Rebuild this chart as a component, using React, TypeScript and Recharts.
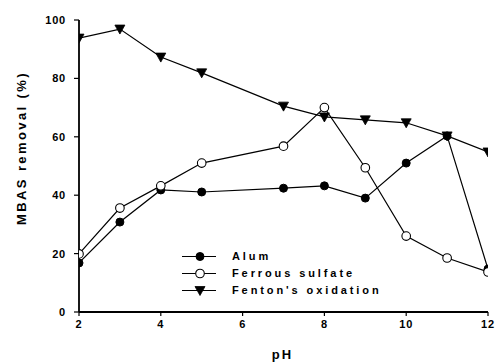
import React from "react";
import { LineChart, Line, XAxis, YAxis, Legend } from "recharts";

const phValues = [2, 3, 4, 5, 7, 8, 9, 10, 11, 12];
const alumValues = [16.8, 30.8, 41.8, 41.1, 42.4, 43.2, 39.0, 51.0, 60.3, 14.7];
const ferrousValues = [19.9, 35.6, 43.2, 51.0, 56.8, 70.0, 49.4, 26.0, 18.5, 13.7];
const fentonValues = [93.8, 96.9, 87.3, 81.9, 70.5, 66.8, 65.8, 64.8, 60.3, 54.8];
const xTicks = [2, 4, 6, 8, 10, 12];
const yTicks = [0, 20, 40, 60, 80, 100];
const seriesNames = ["Alum", "Ferrous sulfate", "Fenton's oxidation"];

const data = phValues.map((ph, i) => ({
  ph,
  alum: alumValues[i],
  ferrous: ferrousValues[i],
  fenton: fentonValues[i],
}));

const FONT = "'Liberation Sans', Arial, sans-serif";

const FilledCircle = (props: any) => {
  const { cx, cy } = props;
  if (cx == null || cy == null) return null;
  return <circle cx={cx} cy={cy} r={4} fill="#000" stroke="#000" strokeWidth={1} />;
};
const OpenCircle = (props: any) => {
  const { cx, cy } = props;
  if (cx == null || cy == null) return null;
  return <circle cx={cx} cy={cy} r={4.3} fill="#fff" stroke="#000" strokeWidth={1.1} />;
};
const DownTriangle = (props: any) => {
  const { cx, cy } = props;
  if (cx == null || cy == null) return null;
  return (
    <polygon
      points={`${cx - 5},${cy - 4} ${cx + 5},${cy - 4} ${cx},${cy + 5}`}
      fill="#000"
      stroke="#000"
      strokeWidth={0.8}
    />
  );
};

const markerFor = (i: number, cx: number, cy: number) => {
  if (i === 0) return <FilledCircle cx={cx} cy={cy} />;
  if (i === 1) return <OpenCircle cx={cx} cy={cy} />;
  return <DownTriangle cx={cx} cy={cy} />;
};

const LegendContent = () => (
  <div style={{ fontFamily: FONT, fontWeight: "bold", fontSize: 11, letterSpacing: 2.9, color: "#000" }}>
    {seriesNames.map((name, i) => (
      <div key={name} style={{ display: "flex", alignItems: "center", height: 17 }}>
        <svg width={36} height={17} style={{ display: "block" }}>
          <line x1={0} y1={8.5} x2={34} y2={8.5} stroke="#000" strokeWidth={1.2} />
          {markerFor(i, 18, 8.5)}
        </svg>
        <span style={{ marginLeft: 14, lineHeight: "17px", whiteSpace: "nowrap" }}>{name}</span>
      </div>
    ))}
  </div>
);

const YLabel = (props: any) => {
  const vb = props.viewBox || {};
  const x = (vb.x || 0) + 21;
  const y = (vb.y || 0) + (vb.height || 0) / 2 - 18;
  return (
    <text
      x={x}
      y={y}
      transform={`rotate(-90, ${x}, ${y})`}
      textAnchor="middle"
      dominantBaseline="central"
      fontFamily={FONT}
      fontWeight="bold"
      fontSize={13}
      letterSpacing={2.4}
      fill="#000"
    >
      MBAS removal (%)
    </text>
  );
};

const XLabel = (props: any) => {
  const vb = props.viewBox || {};
  const x = (vb.x || 0) + (vb.width || 0) / 2 - 1;
  const y = (vb.y || 0) + 47;
  return (
    <text x={x} y={y} textAnchor="middle" fontFamily={FONT} fontWeight="bold" fontSize={13} letterSpacing={2} fill="#000">
      pH
    </text>
  );
};

const tickStyle = { fontFamily: FONT, fontWeight: "bold" as const, fontSize: 11, fill: "#000", letterSpacing: 0.8 };

export default function App() {
  return (
    <div style={{ position: "absolute", left: 0, top: 0, width: 496, height: 362, background: "#fff" }}>
      <LineChart width={496} height={362} data={data} margin={{ top: 20, right: 8, left: 0, bottom: 0 }}>
        <XAxis
          dataKey="ph"
          type="number"
          domain={[2, 12]}
          ticks={xTicks}
          height={50}
          tickSize={4}
          tickMargin={4}
          tick={tickStyle}
          axisLine={{ stroke: "#000", strokeWidth: 1.8 }}
          tickLine={{ stroke: "#000", strokeWidth: 1.2 }}
          label={<XLabel />}
          allowDataOverflow
        />
        <XAxis
          xAxisId="top"
          dataKey="ph"
          type="number"
          domain={[2, 12]}
          orientation="top"
          height={0}
          tick={false}
          tickLine={false}
          axisLine={{ stroke: "#000", strokeWidth: 1.2 }}
        />
        <YAxis
          domain={[0, 100]}
          ticks={yTicks}
          width={79}
          tickSize={5}
          tickMargin={8}
          tick={tickStyle}
          axisLine={{ stroke: "#000", strokeWidth: 1.8 }}
          tickLine={{ stroke: "#000", strokeWidth: 1.2 }}
          label={<YLabel />}
          allowDataOverflow
        />
        <YAxis
          yAxisId="right"
          domain={[0, 100]}
          orientation="right"
          width={0}
          tick={false}
          tickLine={false}
          axisLine={{ stroke: "#000", strokeWidth: 1.2 }}
        />
        <Legend
          layout="vertical"
          align="center"
          verticalAlign="middle"
          content={<LegendContent />}
          wrapperStyle={{ position: "absolute", left: 182, top: 248, width: "auto", height: "auto" }}
        />
        <Line dataKey="alum" name={seriesNames[0]} stroke="#000" strokeWidth={1.2} dot={<FilledCircle />} isAnimationActive={false} />
        <Line dataKey="ferrous" name={seriesNames[1]} stroke="#000" strokeWidth={1.2} dot={<OpenCircle />} isAnimationActive={false} />
        <Line dataKey="fenton" name={seriesNames[2]} stroke="#000" strokeWidth={1.2} dot={<DownTriangle />} isAnimationActive={false} />
      </LineChart>
    </div>
  );
}
